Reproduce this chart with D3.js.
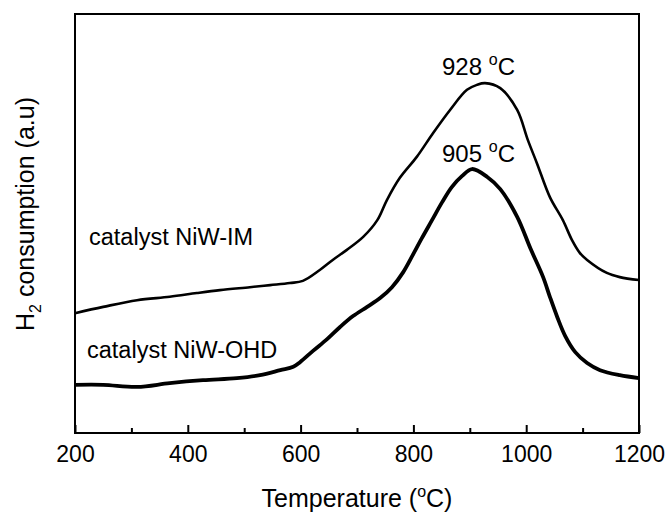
<!DOCTYPE html>
<html>
<head>
<meta charset="utf-8">
<script src="https://cdn.jsdelivr.net/npm/d3@7"></script>
<style>
  body { margin: 0; background: #fff; }
  text { font-family: "Liberation Sans", Arial, sans-serif; fill: #000; }
</style>
</head>
<body>
<svg id="chart" width="669" height="512"></svg>
<script>
// temperature (C) and H2 consumption (a.u.)
let imTemp = [200, 250, 310, 368, 416, 457, 510, 546, 581, 604, 634, 657, 682, 711, 736, 753, 776, 806, 835, 865, 895, 913, 927, 954, 984, 1003, 1019, 1042, 1065, 1081, 1095, 1108, 1143, 1166, 1200]
let imVal = [28.6, 30.1, 31.7, 32.5, 33.4, 34.1, 34.8, 35.3, 35.8, 36.3, 38.9, 41.3, 43.7, 46.8, 50.8, 55.6, 60.9, 65.9, 71.6, 77.1, 81.9, 83.1, 83.5, 82.3, 77.1, 69.9, 64.4, 56.3, 50.8, 46.1, 43.0, 41.3, 38.2, 37.2, 36.5]

let ohdTemp = [200, 250, 310, 368, 427, 487, 528, 564, 587, 599, 622, 647, 670, 693, 718, 741, 762, 782, 799, 815, 833, 851, 868, 886, 904, 931, 954, 984, 1008, 1030, 1042, 1055, 1069, 1087, 1108, 1131, 1166, 1200]
let ohdVal = [11.5, 11.5, 11.0, 11.9, 12.6, 13.1, 13.8, 15.0, 15.8, 16.9, 19.6, 22.4, 25.3, 27.9, 30.1, 32.2, 34.8, 38.4, 42.5, 46.5, 50.8, 55.1, 58.7, 61.3, 63.0, 61.1, 58.2, 51.6, 43.9, 37.2, 32.5, 27.7, 23.2, 19.3, 16.7, 15.0, 13.8, 13.1]

let xTicks = [200, 400, 600, 800, 1000, 1200]
let xMinor = [300, 500, 700, 900, 1100]

let svg = d3.select('#chart')

let plotL = 75, plotR = 639, plotT = 14, plotB = 433

let xScale = d3.scaleLinear().domain([200, 1200]).range([plotL, plotR])
let yScale = d3.scaleLinear().domain([0, 100]).range([plotB, plotT])

// frame
svg.append('rect')
    .attr('x', plotL)
    .attr('y', plotT)
    .attr('width', plotR - plotL)
    .attr('height', plotB - plotT)
    .attr('fill', 'none')
    .attr('stroke', '#000')
    .attr('stroke-width', 2)

// bottom axis, ticks pointing inward
let xAxis = d3.axisBottom(xScale)
    .tickValues(xTicks)
    .tickSizeInner(-8)
    .tickSizeOuter(0)
    .tickPadding(13)
    .tickFormat(d3.format('d'))

let gx = svg.append('g')
    .attr('transform', 'translate(0,' + plotB + ')')
    .call(xAxis)
gx.select('.domain').remove()
gx.selectAll('line').attr('stroke', '#000').attr('stroke-width', 2)
gx.selectAll('text')
    .style('font-size', '23px')
    .style('font-family', '"Liberation Sans", Arial, sans-serif')

let gm = svg.append('g')
    .attr('transform', 'translate(0,' + plotB + ')')
    .call(d3.axisBottom(xScale).tickValues(xMinor).tickSizeInner(-5).tickSizeOuter(0).tickFormat(''))
gm.select('.domain').remove()
gm.selectAll('line').attr('stroke', '#000').attr('stroke-width', 2)

// curves
let line = d3.line()
    .x((d) => xScale(d[0]))
    .y((d) => yScale(d[1]))
    .curve(d3.curveCatmullRom.alpha(0.5))

svg.append('path')
    .datum(d3.zip(imTemp, imVal))
    .attr('d', line)
    .attr('fill', 'none')
    .attr('stroke', '#000')
    .attr('stroke-width', 2.6)

svg.append('path')
    .datum(d3.zip(ohdTemp, ohdVal))
    .attr('d', line)
    .attr('fill', 'none')
    .attr('stroke', '#000')
    .attr('stroke-width', 3.8)

// labels
svg.append('text')
    .attr('x', 89)
    .attr('y', 245)
    .style('font-size', '23.5px')
    .text('catalyst NiW-IM')

svg.append('text')
    .attr('x', 87)
    .attr('y', 358)
    .style('font-size', '23.5px')
    .text('catalyst NiW-OHD')

let peakLabel = function(x, y, num) {
    let t = svg.append('text')
        .attr('x', x)
        .attr('y', y)
        .style('font-size', '24px')
    t.append('tspan').text(num + ' ')
    t.append('tspan').attr('dy', -10).style('font-size', '16px').text('o')
    t.append('tspan').attr('dy', 10).text('C')
}
peakLabel(442, 75, '928')
peakLabel(442, 162, '905')

// x title
let xt = svg.append('text')
    .attr('x', 357)
    .attr('y', 507)
    .attr('text-anchor', 'middle')
    .style('font-size', '25px')
xt.append('tspan').text('Temperature (')
xt.append('tspan').attr('dy', -10).style('font-size', '16px').text('o')
xt.append('tspan').attr('dy', 10).text('C)')

// y title
let yt = svg.append('text')
    .attr('transform', 'translate(34,214) rotate(-90)')
    .attr('text-anchor', 'middle')
    .style('font-size', '25px')
yt.append('tspan').text('H')
yt.append('tspan').attr('dy', 7).style('font-size', '16px').text('2')
yt.append('tspan').attr('dy', -7).text(' consumption (a.u)')
</script>
</body>
</html>
